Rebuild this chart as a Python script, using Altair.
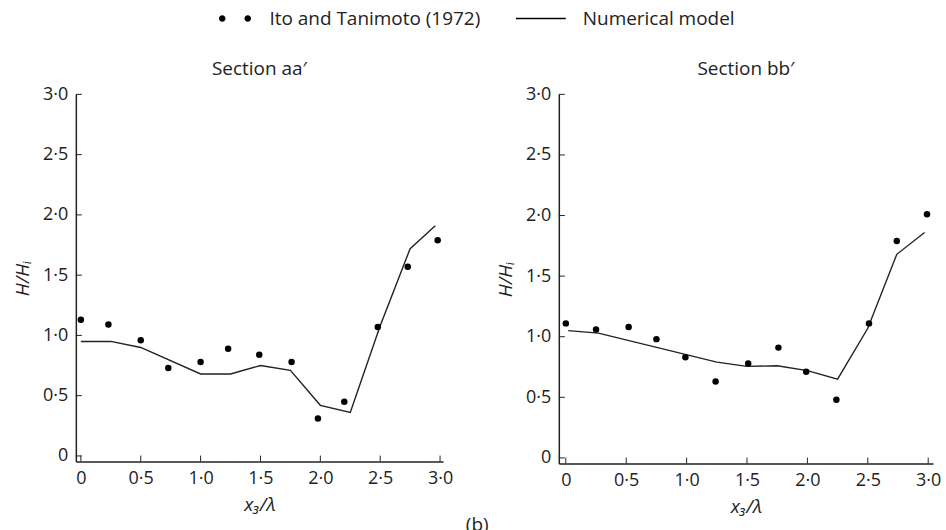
import altair as alt
import pandas as pd

# ---- data ----
obs_a_x = [0, 0.23, 0.5, 0.73, 1.0, 1.23, 1.49, 1.76, 1.98, 2.2, 2.48, 2.73, 2.98]
obs_a_y = [1.13, 1.09, 0.96, 0.73, 0.78, 0.89, 0.84, 0.78, 0.31, 0.45, 1.07, 1.57, 1.79]
mod_a_x = [0, 0.25, 0.5, 1.0, 1.25, 1.5, 1.75, 2.0, 2.25, 2.5, 2.75, 2.96]
mod_a_y = [0.95, 0.95, 0.90, 0.68, 0.68, 0.75, 0.71, 0.42, 0.36, 1.08, 1.72, 1.91]

obs_b_x = [0, 0.25, 0.52, 0.75, 0.99, 1.24, 1.51, 1.76, 1.99, 2.24, 2.51, 2.74, 2.99]
obs_b_y = [1.11, 1.06, 1.08, 0.98, 0.83, 0.63, 0.78, 0.91, 0.71, 0.48, 1.11, 1.79, 2.01]
mod_b_x = [0.02, 0.27, 1.25, 1.5, 1.75, 2.0, 2.25, 2.5, 2.74, 2.97]
mod_b_y = [1.05, 1.03, 0.79, 0.755, 0.76, 0.72, 0.65, 1.07, 1.68, 1.86]

tick_values = [0, 0.5, 1.0, 1.5, 2.0, 2.5, 3.0]
series_names = ["Ito and Tanimoto (1972)", "Numerical model"]
titles = ["Section aa\u2032", "Section bb\u2032"]

FONT = "Open Sans"
INK = "#222222"
label_expr = "datum.value == 0 ? '0' : replace(format(datum.value, '.1f'), '.', '\u00b7')"

# legend glyphs (unit = 10 px with symbolSize 400)
two_dots = ("M0.64,0A0.33,0.33,0,1,1,1.30,0A0.33,0.33,0,1,1,0.64,0Z "
            "M3.20,0A0.33,0.33,0,1,1,3.86,0A0.33,0.33,0,1,1,3.20,0Z")
line_path = "M-1,-0.07L4,-0.07L4,0.07L-1,0.07Z"

ticks_df = pd.DataFrame({"v": tick_values})


def panel(ox, oy, mx, my, title, xdom, ydom, w, h, with_legend=False):
    obs = pd.DataFrame({"x": ox, "y": oy})
    mod = pd.DataFrame({"x": mx, "y": my})
    xs = alt.Scale(domain=xdom, nice=False, zero=False)
    ys = alt.Scale(domain=ydom, nice=False, zero=False)
    common = dict(values=tick_values, labelExpr=label_expr, ticks=False, grid=False,
                  titleFontStyle="italic", titleFontWeight="normal",
                  labelFontSize=18, titleFontSize=19, labelFont=FONT, titleFont=FONT,
                  labelColor=INK, titleColor=INK, domainColor=INK, domainWidth=1.5)
    xaxis = alt.Axis(title="x\u2083/\u03bb", labelPadding=8, titlePadding=8, **common)
    yaxis = alt.Axis(title="H/H\u1d62", labelPadding=8, titlePadding=10, **common)
    line = alt.Chart(mod).mark_line(color=INK, strokeWidth=1.4).encode(
        x=alt.X("x:Q", scale=xs, axis=xaxis),
        y=alt.Y("y:Q", scale=ys, axis=yaxis),
    )
    pts = alt.Chart(obs).mark_circle(color="black", size=42, opacity=1).encode(
        x=alt.X("x:Q", scale=xs),
        y=alt.Y("y:Q", scale=ys),
    )
    ytick = alt.Chart(ticks_df).mark_rule(color=INK, strokeWidth=1).encode(
        y=alt.Y("v:Q", scale=ys), x=alt.value(0), x2=alt.value(6)
    )
    xtick = alt.Chart(ticks_df).mark_rule(color=INK, strokeWidth=1).encode(
        x=alt.X("v:Q", scale=xs), y=alt.value(h), y2=alt.value(h - 6)
    )
    layers = [ytick, xtick, line, pts]
    if with_legend:
        leg = alt.Chart(pd.DataFrame({"s": series_names})).mark_point(
            opacity=0, filled=True, fill="black", size=400
        ).encode(
            x=alt.value(0), y=alt.value(0),
            shape=alt.Shape(
                "s:N",
                scale=alt.Scale(domain=series_names, range=[two_dots, line_path]),
                legend=alt.Legend(
                    title=None, orient="none", direction="horizontal",
                    legendX=127, legendY=-86,
                    symbolSize=400, symbolFillColor="black", symbolStrokeWidth=0,
                    symbolOpacity=1, labelLimit=0,
                    labelFont=FONT, labelFontSize=19, labelColor=INK,
                    labelOffset=47, columnPadding=35,
                ),
            ),
        )
        layers.append(leg)
    return alt.layer(*layers).properties(
        width=w, height=h,
        title=alt.TitleParams(title, font=FONT, fontSize=19, fontWeight="normal",
                              color=INK, offset=6),
    )


left = panel(obs_a_x, obs_a_y, mod_a_x, mod_a_y, titles[0],
             [-0.042, 3.025], [-0.047, 3.0], 368, 368, with_legend=True)
right = panel(obs_b_x, obs_b_y, mod_b_x, mod_b_y, titles[1],
              [-0.058, 3.04], [-0.047, 3.0], 375, 370)

chart = alt.hconcat(left, right, spacing=43).properties(
    padding={"left": 13, "top": 8, "right": 5, "bottom": 0},
    title=alt.TitleParams("(b)", orient="bottom", anchor="middle", font=FONT,
                          fontSize=19, fontWeight="normal", color=INK, offset=0),
).configure_view(stroke=None)

chart.save("out.html", embed_options={"renderer": "svg", "actions": False})
